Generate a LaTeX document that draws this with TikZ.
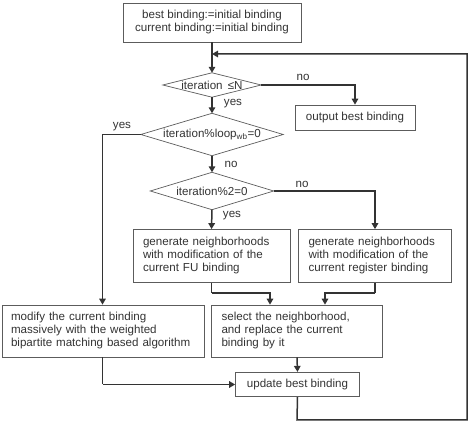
\documentclass[tikz,border=0pt]{standalone}
\usepackage{fontspec}
\setmainfont{Liberation Sans}
\usetikzlibrary{arrows.meta}
\definecolor{ink}{gray}{0.2}
\begin{document}
\begin{tikzpicture}[x=1pt,y=-1pt,
  font=\fontsize{11.6}{13}\selectfont, text=ink,
  box/.style={draw=ink!80, line width=0.7pt, inner sep=0pt, align=center},
  lbox/.style={box, align=left},
  dtext/.style={inner sep=0pt, draw=none},
  dshape/.style={draw=ink!80, line width=0.7pt},
  conn/.style={draw=ink, line width=1.5pt},
  arr/.style={conn, -{Triangle[length=6pt,width=6.5pt]}},
  lab/.style={inner sep=0pt}
]
\useasboundingbox (0,0) rectangle (469,427);

% nodes
\node[box, minimum width=178pt, minimum height=39pt] (init) at (212,22.5)
  {best binding:=initial binding\\current binding:=initial binding};
\node[dtext, minimum width=98pt, minimum height=24pt] (d1) at (212,85) {iteration \,≤N};
\node[box, minimum width=120pt, minimum height=25pt] (out) at (355,117.5) {output best binding};
\node[dtext, minimum width=142pt, minimum height=42pt] (d2) at (212,134.5) {iteration\%loop\textsubscript{wb}=0};
\node[dtext, minimum width=123pt, minimum height=37pt] (d3) at (212,191) {iteration\%2=0};
\node[lbox, minimum width=157pt, minimum height=53pt, text width=137pt] (genfu) at (211.5,256)
  {generate neighborhoods\\with modification of the\\current FU binding};
\node[lbox, minimum width=153pt, minimum height=53pt, text width=133pt] (genreg) at (375,256)
  {generate neighborhoods\\with modification of the\\current register binding};
\node[lbox, minimum width=202pt, minimum height=52pt, text width=184pt] (mod) at (103,331)
  {modify the current binding\\massively with the weighted\\bipartite matching based algorithm};
\node[lbox, minimum width=171pt, minimum height=52pt, text width=151pt] (sel) at (297,331)
  {select the neighborhood,\\and replace the current\\binding by it};
\node[box, minimum width=124pt, minimum height=24.5pt] (upd) at (297.5,384.5) {update best binding};

% diamonds
\foreach \d in {d1,d2,d3}
  \draw[dshape] (\d.west) -- (\d.north) -- (\d.east) -- (\d.south) -- cycle;

% helper coordinates
\coordinate (outc) at (355,85);
\coordinate (lc) at (102.5,134.5);
\coordinate (regc) at (375,191);
\coordinate (j1) at (211.5,293);
\coordinate (j1b) at (270,293);
\coordinate (j2) at (375,293);
\coordinate (j2b) at (325,293);
\coordinate (mc) at (102.5,384.5);
\coordinate (lp1) at (297,420);
\coordinate (lp2) at (467,420);
\coordinate (lp3) at (467,54);
\coordinate (lp4) at (212,54);

% connectors
\draw[arr] (init.south) -- (d1.north);
\draw[arr] (d1.east) -- (outc) -- (out.north);
\draw[arr] (d1.south) -- (d2.north);
\draw[arr] (d2.west) -- (lc) -- (mod.north -| lc);
\draw[arr] (d2.south) -- (d3.north);
\draw[arr] (d3.south) -- (genfu.north);
\draw[arr] (d3.east) -- (regc) -- (genreg.north);
\draw[conn] (genfu.south) -- (j1);
\draw[arr] (j1) -- (j1b) -- (sel.north -| j1b);
\draw[conn] (genreg.south) -- (j2);
\draw[arr] (j2) -- (j2b) -- (sel.north -| j2b);
\draw[conn] (mod.south -| mc) -- (mc);
\draw[arr] (mc) -- (upd.west);
\draw[arr] (sel.south) -- (upd.north);
\draw[arr] (upd.south) -- (lp1) -- (lp2) -- (lp3) -- (lp4);

% labels
\node[lab] (no1) at (303,77) {no};
\node[lab] (yes1) at (233,104) {yes};
\node[lab] (yes2) at (122,127) {yes};
\node[lab] (no2) at (231,164) {no};
\node[lab] (no3) at (302,184) {no};
\node[lab] (yes3) at (232,216) {yes};
\end{tikzpicture}
\end{document}
